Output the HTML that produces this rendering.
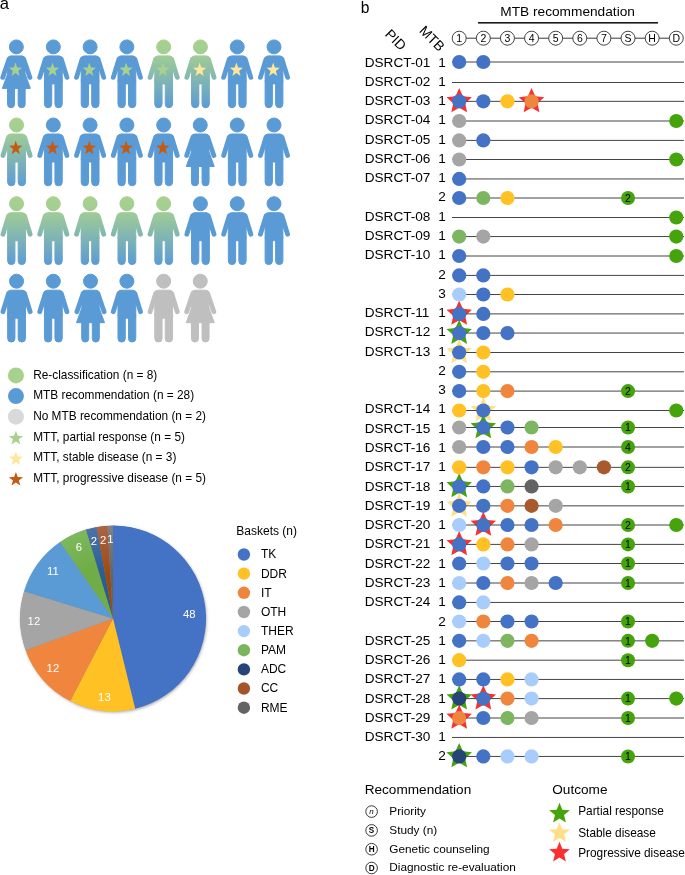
<!DOCTYPE html><html><head><meta charset="utf-8"><title>Figure</title>
<style>html,body{margin:0;padding:0;background:#fff}svg{display:block}text{font-family:"Liberation Sans",Arial,sans-serif;fill:#000}</style></head><body>
<svg width="685" height="875" viewBox="0 0 685 875">
<defs>
<linearGradient id="gg" gradientUnits="userSpaceOnUse" x1="0" y1="0" x2="0" y2="69"><stop offset="0" stop-color="#a9d18e"/><stop offset="0.2" stop-color="#a3ce93"/><stop offset="1" stop-color="#5b9bd5"/></linearGradient>
<g id="male">
<circle cx="0" cy="7.5" r="7"/>
<rect x="-8.9" y="16.5" width="17.8" height="28" rx="3"/>
<rect x="-8.9" y="38" width="7.3" height="30.3" rx="3.6"/>
<rect x="1.6" y="38" width="7.3" height="30.3" rx="3.6"/>
<line x1="-8" y1="19.8" x2="-13.6" y2="38" stroke-width="4.8" stroke-linecap="round"/>
<line x1="8" y1="19.8" x2="13.6" y2="38" stroke-width="4.8" stroke-linecap="round"/>
</g>
<g id="female">
<circle cx="0" cy="7.5" r="7"/>
<rect x="-8.5" y="16.5" width="17" height="22" rx="3"/>
<polygon points="-8.5,30 8.5,30 8.5,33.8 14,49 -14,49 -8.5,33.8"/>
<rect x="-8.8" y="45" width="7" height="23.3" rx="3.4"/>
<rect x="1.8" y="45" width="7" height="23.3" rx="3.4"/>
<line x1="-7.4" y1="19.8" x2="-13.6" y2="38" stroke-width="4.8" stroke-linecap="round"/>
<line x1="7.4" y1="19.8" x2="13.6" y2="38" stroke-width="4.8" stroke-linecap="round"/>
</g>
<filter id="sh" x="-10%" y="-10%" width="125%" height="125%"><feDropShadow dx="0.8" dy="1.2" stdDeviation="1.6" flood-color="#000" flood-opacity="0.35"/></filter>
<radialGradient id="rg5" gradientUnits="userSpaceOnUse" cx="113" cy="618.5" r="93"><stop offset="0.6" stop-color="#70ad47"/><stop offset="1" stop-color="#7db85e"/></radialGradient>
<radialGradient id="rg6" gradientUnits="userSpaceOnUse" cx="113" cy="618.5" r="93"><stop offset="0.45" stop-color="#255e91"/><stop offset="1" stop-color="#4c72a8"/></radialGradient>
<radialGradient id="rg7" gradientUnits="userSpaceOnUse" cx="113" cy="618.5" r="93"><stop offset="0.45" stop-color="#9e480e"/><stop offset="1" stop-color="#ab6443"/></radialGradient>
<radialGradient id="rg8" gradientUnits="userSpaceOnUse" cx="113" cy="618.5" r="93"><stop offset="0.45" stop-color="#636363"/><stop offset="1" stop-color="#828282"/></radialGradient>
</defs>
<text x="-0.3" y="8.7" font-size="16.6">a</text>
<use href="#female" x="16.35" y="39.40" fill="#5b9bd5" stroke="#5b9bd5"/>
<polygon points="15.55,62.48 17.21,67.51 22.11,67.68 18.24,70.95 19.61,76.08 15.55,73.08 11.49,76.08 12.86,70.95 8.99,67.68 13.89,67.51" fill="#a9d18e"/>
<use href="#male" x="53.33" y="39.40" fill="#5b9bd5" stroke="#5b9bd5"/>
<polygon points="52.53,62.48 54.19,67.51 59.09,67.68 55.22,70.95 56.59,76.08 52.53,73.08 48.47,76.08 49.84,70.95 45.97,67.68 50.87,67.51" fill="#a9d18e"/>
<use href="#male" x="90.11" y="39.40" fill="#5b9bd5" stroke="#5b9bd5"/>
<polygon points="89.31,62.48 90.97,67.51 95.87,67.68 92.00,70.95 93.37,76.08 89.31,73.08 85.25,76.08 86.62,70.95 82.75,67.68 87.65,67.51" fill="#a9d18e"/>
<use href="#male" x="126.89" y="39.40" fill="#5b9bd5" stroke="#5b9bd5"/>
<polygon points="126.09,62.48 127.75,67.51 132.65,67.68 128.78,70.95 130.15,76.08 126.09,73.08 122.03,76.08 123.40,70.95 119.53,67.68 124.43,67.51" fill="#a9d18e"/>
<use href="#male" x="163.67" y="39.40" fill="url(#gg)" stroke="url(#gg)"/>
<polygon points="162.87,62.48 164.53,67.51 169.43,67.68 165.56,70.95 166.93,76.08 162.87,73.08 158.81,76.08 160.18,70.95 156.31,67.68 161.21,67.51" fill="#a9d18e"/>
<use href="#male" x="200.45" y="39.40" fill="url(#gg)" stroke="url(#gg)"/>
<polygon points="199.65,62.48 201.31,67.51 206.21,67.68 202.34,70.95 203.71,76.08 199.65,73.08 195.59,76.08 196.96,70.95 193.09,67.68 197.99,67.51" fill="#ffe699"/>
<use href="#male" x="237.23" y="39.40" fill="#5b9bd5" stroke="#5b9bd5"/>
<polygon points="236.43,62.48 238.09,67.51 242.99,67.68 239.12,70.95 240.49,76.08 236.43,73.08 232.37,76.08 233.74,70.95 229.87,67.68 234.77,67.51" fill="#ffe699"/>
<use href="#male" x="274.01" y="39.40" fill="#5b9bd5" stroke="#5b9bd5"/>
<polygon points="273.21,62.48 274.87,67.51 279.77,67.68 275.90,70.95 277.27,76.08 273.21,73.08 269.15,76.08 270.52,70.95 266.65,67.68 271.55,67.51" fill="#ffe699"/>
<use href="#male" x="16.55" y="117.50" fill="url(#gg)" stroke="url(#gg)"/>
<polygon points="15.75,140.58 17.41,145.61 22.31,145.78 18.44,149.05 19.81,154.18 15.75,151.18 11.69,154.18 13.06,149.05 9.19,145.78 14.09,145.61" fill="#c55a11"/>
<use href="#male" x="53.33" y="117.50" fill="#5b9bd5" stroke="#5b9bd5"/>
<polygon points="52.53,140.58 54.19,145.61 59.09,145.78 55.22,149.05 56.59,154.18 52.53,151.18 48.47,154.18 49.84,149.05 45.97,145.78 50.87,145.61" fill="#c55a11"/>
<use href="#male" x="90.11" y="117.50" fill="#5b9bd5" stroke="#5b9bd5"/>
<polygon points="89.31,140.58 90.97,145.61 95.87,145.78 92.00,149.05 93.37,154.18 89.31,151.18 85.25,154.18 86.62,149.05 82.75,145.78 87.65,145.61" fill="#c55a11"/>
<use href="#male" x="126.89" y="117.50" fill="#5b9bd5" stroke="#5b9bd5"/>
<polygon points="126.09,140.58 127.75,145.61 132.65,145.78 128.78,149.05 130.15,154.18 126.09,151.18 122.03,154.18 123.40,149.05 119.53,145.78 124.43,145.61" fill="#c55a11"/>
<use href="#male" x="163.67" y="117.50" fill="#5b9bd5" stroke="#5b9bd5"/>
<polygon points="162.87,140.58 164.53,145.61 169.43,145.78 165.56,149.05 166.93,154.18 162.87,151.18 158.81,154.18 160.18,149.05 156.31,145.78 161.21,145.61" fill="#c55a11"/>
<use href="#female" x="200.25" y="117.50" fill="#5b9bd5" stroke="#5b9bd5"/>
<use href="#male" x="237.23" y="117.50" fill="#5b9bd5" stroke="#5b9bd5"/>
<use href="#male" x="274.01" y="117.50" fill="#5b9bd5" stroke="#5b9bd5"/>
<use href="#male" x="16.55" y="196.20" fill="url(#gg)" stroke="url(#gg)"/>
<use href="#male" x="53.33" y="196.20" fill="url(#gg)" stroke="url(#gg)"/>
<use href="#male" x="90.11" y="196.20" fill="url(#gg)" stroke="url(#gg)"/>
<use href="#male" x="126.89" y="196.20" fill="url(#gg)" stroke="url(#gg)"/>
<use href="#male" x="163.67" y="196.20" fill="url(#gg)" stroke="url(#gg)"/>
<use href="#male" x="200.45" y="196.20" fill="#5b9bd5" stroke="#5b9bd5"/>
<use href="#male" x="237.23" y="196.20" fill="#5b9bd5" stroke="#5b9bd5"/>
<use href="#male" x="274.01" y="196.20" fill="#5b9bd5" stroke="#5b9bd5"/>
<use href="#male" x="16.55" y="273.70" fill="#5b9bd5" stroke="#5b9bd5"/>
<use href="#male" x="53.33" y="273.70" fill="#5b9bd5" stroke="#5b9bd5"/>
<use href="#female" x="90.51" y="273.70" fill="#5b9bd5" stroke="#5b9bd5"/>
<use href="#male" x="126.89" y="273.70" fill="#5b9bd5" stroke="#5b9bd5"/>
<use href="#male" x="163.67" y="273.70" fill="#bfbfbf" stroke="#bfbfbf"/>
<use href="#female" x="200.25" y="273.70" fill="#bfbfbf" stroke="#bfbfbf"/>
<circle cx="15.95" cy="375.45" r="8" fill="#a9d18e"/>
<text x="33.2" y="378.7" font-size="11.85">Re-classification (n = 8)</text>
<circle cx="15.95" cy="396.05" r="8" fill="#5b9bd5"/>
<text x="33.2" y="399.3" font-size="11.85">MTB recommendation (n = 28)</text>
<circle cx="15.95" cy="416.65" r="8" fill="#d9d9d9"/>
<text x="33.2" y="419.9" font-size="11.85">No MTB recommendation (n = 2)</text>
<polygon points="15.90,430.75 17.72,435.80 23.08,435.97 18.84,439.26 20.34,444.41 15.90,441.40 11.46,444.41 12.96,439.26 8.72,435.97 14.08,435.80" fill="#a9d18e"/>
<text x="33.2" y="440.5" font-size="11.85">MTT, partial response (n = 5)</text>
<polygon points="15.90,451.35 17.72,456.40 23.08,456.57 18.84,459.86 20.34,465.01 15.90,462.00 11.46,465.01 12.96,459.86 8.72,456.57 14.08,456.40" fill="#ffe699"/>
<text x="33.2" y="461.1" font-size="11.85">MTT, stable disease (n = 3)</text>
<polygon points="15.90,471.95 17.72,477.00 23.08,477.17 18.84,480.46 20.34,485.61 15.90,482.60 11.46,485.61 12.96,480.46 8.72,477.17 14.08,477.00" fill="#c55a11"/>
<text x="33.2" y="481.7" font-size="11.85">MTT, progressive disease (n = 5)</text>
<circle cx="113" cy="618.5" r="92.7" fill="#888" filter="url(#sh)"/>
<path d="M113.00,618.50 L113.00,525.50 A93.00,93.00 0 0 1 135.18,708.82 Z" fill="#4472c4"/>
<path d="M113.00,618.50 L135.18,708.82 A93.00,93.00 0 0 1 70.20,701.07 Z" fill="#ffc124"/>
<path d="M113.00,618.50 L70.20,701.07 A93.00,93.00 0 0 1 25.55,650.16 Z" fill="#f0863d"/>
<path d="M113.00,618.50 L25.55,650.16 A93.00,93.00 0 0 1 24.06,591.31 Z" fill="#a5a5a5"/>
<path d="M113.00,618.50 L24.06,591.31 A93.00,93.00 0 0 1 60.06,542.04 Z" fill="#5b9bd5"/>
<path d="M113.00,618.50 L60.06,542.04 A93.00,93.00 0 0 1 85.96,529.52 Z" fill="url(#rg5)"/>
<path d="M113.00,618.50 L85.96,529.52 A93.00,93.00 0 0 1 96.69,526.94 Z" fill="url(#rg6)"/>
<path d="M113.00,618.50 L96.69,526.94 A93.00,93.00 0 0 1 107.48,525.66 Z" fill="url(#rg7)"/>
<path d="M113.00,618.50 L107.48,525.66 A93.00,93.00 0 0 1 113.00,525.50 Z" fill="url(#rg8)"/>
<text x="189.3" y="618.1" font-size="11.3" text-anchor="middle" style="fill:#fff">48</text>
<text x="104.4" y="700.6" font-size="11.3" text-anchor="middle" style="fill:#fff">13</text>
<text x="52.9" y="672.4" font-size="11.3" text-anchor="middle" style="fill:#fff">12</text>
<text x="33.9" y="624.9" font-size="11.3" text-anchor="middle" style="fill:#fff">12</text>
<text x="52.9" y="574.9" font-size="11.3" text-anchor="middle" style="fill:#fff">11</text>
<text x="79.0" y="550.7" font-size="11.3" text-anchor="middle" style="fill:#fff">6</text>
<text x="94.0" y="545.1" font-size="11.3" text-anchor="middle" style="fill:#fff">2</text>
<text x="103.2" y="543.6" font-size="11.3" text-anchor="middle" style="fill:#fff">2</text>
<text x="110.5" y="542.7" font-size="11.3" text-anchor="middle" style="fill:#fff">1</text>
<text x="236.3" y="535" font-size="12">Baskets (n)</text>
<circle cx="243.9" cy="554.5" r="6.2" fill="#4472c4"/>
<text x="260.9" y="558.4" font-size="12">TK</text>
<circle cx="243.9" cy="573.6" r="6.2" fill="#ffc124"/>
<text x="260.9" y="577.5" font-size="12">DDR</text>
<circle cx="243.9" cy="592.8" r="6.2" fill="#f0863d"/>
<text x="260.9" y="596.7" font-size="12">IT</text>
<circle cx="243.9" cy="612.0" r="6.2" fill="#a5a5a5"/>
<text x="260.9" y="615.9" font-size="12">OTH</text>
<circle cx="243.9" cy="631.1" r="6.2" fill="#a9cdfb"/>
<text x="260.9" y="635.0" font-size="12">THER</text>
<circle cx="243.9" cy="650.2" r="6.2" fill="#79b55b"/>
<text x="260.9" y="654.1" font-size="12">PAM</text>
<circle cx="243.9" cy="669.4" r="6.2" fill="#264478"/>
<text x="260.9" y="673.3" font-size="12">ADC</text>
<circle cx="243.9" cy="688.5" r="6.2" fill="#a5532a"/>
<text x="260.9" y="692.4" font-size="12">CC</text>
<circle cx="243.9" cy="707.7" r="6.2" fill="#636363"/>
<text x="260.9" y="711.6" font-size="12">RME</text>
<text x="360.8" y="13.4" font-size="15.6">b</text>
<text x="567.6" y="15.5" font-size="13.7" text-anchor="middle">MTB recommendation</text>
<rect x="478" y="22" width="180" height="1.6" fill="#1a1a1a"/>
<text transform="translate(384.2,35) rotate(45)" font-size="13.8">PID</text>
<text transform="translate(418.4,31.6) rotate(45)" font-size="13.8">MTB</text>
<line x1="459.2" y1="38.2" x2="676.3" y2="38.2" stroke="#222" stroke-width="0.9"/>
<circle cx="459.20" cy="38.2" r="7" fill="#fff" stroke="#222" stroke-width="0.85"/>
<text x="459.20" y="42.0" font-size="10.5" text-anchor="middle">1</text>
<circle cx="483.32" cy="38.2" r="7" fill="#fff" stroke="#222" stroke-width="0.85"/>
<text x="483.32" y="42.0" font-size="10.5" text-anchor="middle">2</text>
<circle cx="507.44" cy="38.2" r="7" fill="#fff" stroke="#222" stroke-width="0.85"/>
<text x="507.44" y="42.0" font-size="10.5" text-anchor="middle">3</text>
<circle cx="531.56" cy="38.2" r="7" fill="#fff" stroke="#222" stroke-width="0.85"/>
<text x="531.56" y="42.0" font-size="10.5" text-anchor="middle">4</text>
<circle cx="555.68" cy="38.2" r="7" fill="#fff" stroke="#222" stroke-width="0.85"/>
<text x="555.68" y="42.0" font-size="10.5" text-anchor="middle">5</text>
<circle cx="579.80" cy="38.2" r="7" fill="#fff" stroke="#222" stroke-width="0.85"/>
<text x="579.80" y="42.0" font-size="10.5" text-anchor="middle">6</text>
<circle cx="603.92" cy="38.2" r="7" fill="#fff" stroke="#222" stroke-width="0.85"/>
<text x="603.92" y="42.0" font-size="10.5" text-anchor="middle">7</text>
<circle cx="628.04" cy="38.2" r="7" fill="#fff" stroke="#222" stroke-width="0.85"/>
<text x="628.04" y="42.0" font-size="10.5" text-anchor="middle">S</text>
<circle cx="652.16" cy="38.2" r="7" fill="#fff" stroke="#222" stroke-width="0.85"/>
<text x="652.16" y="42.0" font-size="10.5" text-anchor="middle">H</text>
<circle cx="676.28" cy="38.2" r="7" fill="#fff" stroke="#222" stroke-width="0.85"/>
<text x="676.28" y="42.0" font-size="10.5" text-anchor="middle">D</text>
<text x="364.7" y="66.5" font-size="13.6">DSRCT-01</text>
<text x="442" y="66.5" font-size="13.6" text-anchor="middle">1</text>
<text x="364.7" y="85.8" font-size="13.6">DSRCT-02</text>
<text x="442" y="85.8" font-size="13.6" text-anchor="middle">1</text>
<text x="364.7" y="105.0" font-size="13.6">DSRCT-03</text>
<text x="442" y="105.0" font-size="13.6" text-anchor="middle">1</text>
<text x="364.7" y="124.3" font-size="13.6">DSRCT-04</text>
<text x="442" y="124.3" font-size="13.6" text-anchor="middle">1</text>
<text x="364.7" y="143.6" font-size="13.6">DSRCT-05</text>
<text x="442" y="143.6" font-size="13.6" text-anchor="middle">1</text>
<text x="364.7" y="162.9" font-size="13.6">DSRCT-06</text>
<text x="442" y="162.9" font-size="13.6" text-anchor="middle">1</text>
<text x="364.7" y="182.1" font-size="13.6">DSRCT-07</text>
<text x="442" y="182.1" font-size="13.6" text-anchor="middle">1</text>
<text x="442" y="201.4" font-size="13.6" text-anchor="middle">2</text>
<text x="364.7" y="220.7" font-size="13.6">DSRCT-08</text>
<text x="442" y="220.7" font-size="13.6" text-anchor="middle">1</text>
<text x="364.7" y="240.0" font-size="13.6">DSRCT-09</text>
<text x="442" y="240.0" font-size="13.6" text-anchor="middle">1</text>
<text x="364.7" y="259.2" font-size="13.6">DSRCT-10</text>
<text x="442" y="259.2" font-size="13.6" text-anchor="middle">1</text>
<text x="442" y="278.5" font-size="13.6" text-anchor="middle">2</text>
<text x="442" y="297.8" font-size="13.6" text-anchor="middle">3</text>
<text x="364.7" y="317.1" font-size="13.6">DSRCT-11</text>
<text x="442" y="317.1" font-size="13.6" text-anchor="middle">1</text>
<text x="364.7" y="336.3" font-size="13.6">DSRCT-12</text>
<text x="442" y="336.3" font-size="13.6" text-anchor="middle">1</text>
<text x="364.7" y="355.6" font-size="13.6">DSRCT-13</text>
<text x="442" y="355.6" font-size="13.6" text-anchor="middle">1</text>
<text x="442" y="374.9" font-size="13.6" text-anchor="middle">2</text>
<text x="442" y="394.2" font-size="13.6" text-anchor="middle">3</text>
<text x="364.7" y="413.4" font-size="13.6">DSRCT-14</text>
<text x="442" y="413.4" font-size="13.6" text-anchor="middle">1</text>
<text x="364.7" y="432.7" font-size="13.6">DSRCT-15</text>
<text x="442" y="432.7" font-size="13.6" text-anchor="middle">1</text>
<text x="364.7" y="452.0" font-size="13.6">DSRCT-16</text>
<text x="442" y="452.0" font-size="13.6" text-anchor="middle">1</text>
<text x="364.7" y="471.3" font-size="13.6">DSRCT-17</text>
<text x="442" y="471.3" font-size="13.6" text-anchor="middle">1</text>
<text x="364.7" y="490.5" font-size="13.6">DSRCT-18</text>
<text x="442" y="490.5" font-size="13.6" text-anchor="middle">1</text>
<text x="364.7" y="509.8" font-size="13.6">DSRCT-19</text>
<text x="442" y="509.8" font-size="13.6" text-anchor="middle">1</text>
<text x="364.7" y="529.1" font-size="13.6">DSRCT-20</text>
<text x="442" y="529.1" font-size="13.6" text-anchor="middle">1</text>
<text x="364.7" y="548.4" font-size="13.6">DSRCT-21</text>
<text x="442" y="548.4" font-size="13.6" text-anchor="middle">1</text>
<text x="364.7" y="567.6" font-size="13.6">DSRCT-22</text>
<text x="442" y="567.6" font-size="13.6" text-anchor="middle">1</text>
<text x="364.7" y="586.9" font-size="13.6">DSRCT-23</text>
<text x="442" y="586.9" font-size="13.6" text-anchor="middle">1</text>
<text x="364.7" y="606.2" font-size="13.6">DSRCT-24</text>
<text x="442" y="606.2" font-size="13.6" text-anchor="middle">1</text>
<text x="442" y="625.5" font-size="13.6" text-anchor="middle">2</text>
<text x="364.7" y="644.8" font-size="13.6">DSRCT-25</text>
<text x="442" y="644.8" font-size="13.6" text-anchor="middle">1</text>
<text x="364.7" y="664.0" font-size="13.6">DSRCT-26</text>
<text x="442" y="664.0" font-size="13.6" text-anchor="middle">1</text>
<text x="364.7" y="683.3" font-size="13.6">DSRCT-27</text>
<text x="442" y="683.3" font-size="13.6" text-anchor="middle">1</text>
<text x="364.7" y="702.6" font-size="13.6">DSRCT-28</text>
<text x="442" y="702.6" font-size="13.6" text-anchor="middle">1</text>
<text x="364.7" y="721.8" font-size="13.6">DSRCT-29</text>
<text x="442" y="721.8" font-size="13.6" text-anchor="middle">1</text>
<text x="364.7" y="741.1" font-size="13.6">DSRCT-30</text>
<text x="442" y="741.1" font-size="13.6" text-anchor="middle">1</text>
<text x="442" y="760.4" font-size="13.6" text-anchor="middle">2</text>
<polygon points="459.20,87.95 462.90,96.25 471.94,97.21 465.19,103.30 467.08,112.19 459.20,107.65 451.32,112.19 453.21,103.30 446.46,97.21 455.50,96.25" fill="#fa2f2f"/>
<polygon points="531.56,87.95 535.26,96.25 544.30,97.21 537.55,103.30 539.44,112.19 531.56,107.65 523.68,112.19 525.57,103.30 518.82,97.21 527.86,96.25" fill="#fa2f2f"/>
<polygon points="459.20,300.50 462.90,308.80 471.94,309.76 465.19,315.85 467.08,324.74 459.20,320.20 451.32,324.74 453.21,315.85 446.46,309.76 455.50,308.80" fill="#fa2f2f"/>
<polygon points="459.20,319.65 462.90,327.95 471.94,328.91 465.19,335.00 467.08,343.89 459.20,339.35 451.32,343.89 453.21,335.00 446.46,328.91 455.50,327.95" fill="#45a30b"/>
<polygon points="459.20,339.10 462.90,347.40 471.94,348.36 465.19,354.45 467.08,363.34 459.20,358.80 451.32,363.34 453.21,354.45 446.46,348.36 455.50,347.40" fill="#ffe08a"/>
<polygon points="483.32,397.10 487.02,405.40 496.06,406.36 489.31,412.45 491.20,421.34 483.32,416.80 475.44,421.34 477.33,412.45 470.58,406.36 479.62,405.40" fill="#ffe08a"/>
<polygon points="483.32,414.10 487.02,422.40 496.06,423.36 489.31,429.45 491.20,438.34 483.32,433.80 475.44,438.34 477.33,429.45 470.58,423.36 479.62,422.40" fill="#45a30b"/>
<polygon points="459.20,473.05 462.90,481.35 471.94,482.31 465.19,488.40 467.08,497.29 459.20,492.75 451.32,497.29 453.21,488.40 446.46,482.31 455.50,481.35" fill="#45a30b"/>
<polygon points="459.20,492.45 462.90,500.75 471.94,501.71 465.19,507.80 467.08,516.69 459.20,512.15 451.32,516.69 453.21,507.80 446.46,501.71 455.50,500.75" fill="#ffe08a"/>
<polygon points="483.32,511.60 487.02,519.90 496.06,520.86 489.31,526.95 491.20,535.84 483.32,531.30 475.44,535.84 477.33,526.95 470.58,520.86 479.62,519.90" fill="#fa2f2f"/>
<polygon points="459.20,531.00 462.90,539.30 471.94,540.26 465.19,546.35 467.08,555.24 459.20,550.70 451.32,555.24 453.21,546.35 446.46,540.26 455.50,539.30" fill="#fa2f2f"/>
<polygon points="459.20,685.20 462.90,693.50 471.94,694.46 465.19,700.55 467.08,709.44 459.20,704.90 451.32,709.44 453.21,700.55 446.46,694.46 455.50,693.50" fill="#45a30b"/>
<polygon points="483.32,685.20 487.02,693.50 496.06,694.46 489.31,700.55 491.20,709.44 483.32,704.90 475.44,709.44 477.33,700.55 470.58,694.46 479.62,693.50" fill="#fa2f2f"/>
<polygon points="459.20,704.60 462.90,712.90 471.94,713.86 465.19,719.95 467.08,728.84 459.20,724.30 451.32,728.84 453.21,719.95 446.46,713.86 455.50,712.90" fill="#fa2f2f"/>
<polygon points="459.20,743.05 462.90,751.35 471.94,752.31 465.19,758.40 467.08,767.29 459.20,762.75 451.32,767.29 453.21,758.40 446.46,752.31 455.50,751.35" fill="#45a30b"/>
<line x1="452" y1="62.00" x2="684" y2="62.00" stroke="#454545" stroke-width="1"/>
<line x1="452" y1="82.50" x2="684" y2="82.50" stroke="#454545" stroke-width="1"/>
<line x1="452" y1="101.35" x2="684" y2="101.35" stroke="#454545" stroke-width="1"/>
<line x1="452" y1="121.00" x2="684" y2="121.00" stroke="#454545" stroke-width="1"/>
<line x1="452" y1="140.40" x2="684" y2="140.40" stroke="#454545" stroke-width="1"/>
<line x1="452" y1="159.50" x2="684" y2="159.50" stroke="#454545" stroke-width="1"/>
<line x1="452" y1="178.95" x2="684" y2="178.95" stroke="#454545" stroke-width="1"/>
<line x1="452" y1="198.00" x2="684" y2="198.00" stroke="#454545" stroke-width="1"/>
<line x1="452" y1="217.50" x2="684" y2="217.50" stroke="#454545" stroke-width="1"/>
<line x1="452" y1="236.55" x2="684" y2="236.55" stroke="#454545" stroke-width="1"/>
<line x1="452" y1="256.00" x2="684" y2="256.00" stroke="#454545" stroke-width="1"/>
<line x1="452" y1="275.40" x2="684" y2="275.40" stroke="#454545" stroke-width="1"/>
<line x1="452" y1="294.50" x2="684" y2="294.50" stroke="#454545" stroke-width="1"/>
<line x1="452" y1="313.90" x2="684" y2="313.90" stroke="#454545" stroke-width="1"/>
<line x1="452" y1="333.05" x2="684" y2="333.05" stroke="#454545" stroke-width="1"/>
<line x1="452" y1="352.50" x2="684" y2="352.50" stroke="#454545" stroke-width="1"/>
<line x1="452" y1="371.80" x2="684" y2="371.80" stroke="#454545" stroke-width="1"/>
<line x1="452" y1="391.10" x2="684" y2="391.10" stroke="#454545" stroke-width="1"/>
<line x1="452" y1="410.50" x2="684" y2="410.50" stroke="#454545" stroke-width="1"/>
<line x1="452" y1="427.50" x2="684" y2="427.50" stroke="#454545" stroke-width="1"/>
<line x1="452" y1="447.00" x2="684" y2="447.00" stroke="#454545" stroke-width="1"/>
<line x1="452" y1="467.35" x2="684" y2="467.35" stroke="#454545" stroke-width="1"/>
<line x1="452" y1="486.45" x2="684" y2="486.45" stroke="#454545" stroke-width="1"/>
<line x1="452" y1="505.85" x2="684" y2="505.85" stroke="#454545" stroke-width="1"/>
<line x1="452" y1="525.00" x2="684" y2="525.00" stroke="#454545" stroke-width="1"/>
<line x1="452" y1="544.40" x2="684" y2="544.40" stroke="#454545" stroke-width="1"/>
<line x1="452" y1="563.50" x2="684" y2="563.50" stroke="#454545" stroke-width="1"/>
<line x1="452" y1="583.00" x2="684" y2="583.00" stroke="#454545" stroke-width="1"/>
<line x1="452" y1="602.45" x2="684" y2="602.45" stroke="#454545" stroke-width="1"/>
<line x1="452" y1="621.50" x2="684" y2="621.50" stroke="#454545" stroke-width="1"/>
<line x1="452" y1="640.85" x2="684" y2="640.85" stroke="#454545" stroke-width="1"/>
<line x1="452" y1="660.20" x2="684" y2="660.20" stroke="#454545" stroke-width="1"/>
<line x1="452" y1="679.45" x2="684" y2="679.45" stroke="#454545" stroke-width="1"/>
<line x1="452" y1="698.60" x2="684" y2="698.60" stroke="#454545" stroke-width="1"/>
<line x1="452" y1="718.00" x2="684" y2="718.00" stroke="#454545" stroke-width="1"/>
<line x1="452" y1="737.45" x2="684" y2="737.45" stroke="#454545" stroke-width="1"/>
<line x1="452" y1="756.45" x2="684" y2="756.45" stroke="#454545" stroke-width="1"/>
<circle cx="459.20" cy="62.00" r="7.1" fill="#4472c4"/>
<circle cx="483.32" cy="62.00" r="7.1" fill="#4472c4"/>
<circle cx="459.20" cy="101.35" r="7.1" fill="#4472c4"/>
<circle cx="483.32" cy="101.35" r="7.1" fill="#4472c4"/>
<circle cx="507.44" cy="101.35" r="7.1" fill="#ffc124"/>
<circle cx="531.56" cy="101.35" r="7.1" fill="#f0863d"/>
<circle cx="459.20" cy="121.00" r="7.1" fill="#a5a5a5"/>
<circle cx="676.28" cy="121.00" r="7.1" fill="#45a30b"/>
<circle cx="459.20" cy="140.40" r="7.1" fill="#a5a5a5"/>
<circle cx="483.32" cy="140.40" r="7.1" fill="#4472c4"/>
<circle cx="459.20" cy="159.50" r="7.1" fill="#a5a5a5"/>
<circle cx="676.28" cy="159.50" r="7.1" fill="#45a30b"/>
<circle cx="459.20" cy="178.95" r="7.1" fill="#4472c4"/>
<circle cx="459.20" cy="198.00" r="7.1" fill="#4472c4"/>
<circle cx="483.32" cy="198.00" r="7.1" fill="#7db560"/>
<circle cx="507.44" cy="198.00" r="7.1" fill="#ffc124"/>
<circle cx="628.04" cy="198.00" r="7" fill="#45a30b"/>
<text x="628.04" y="201.8" font-size="10.5" text-anchor="middle">2</text>
<circle cx="676.28" cy="217.50" r="7.1" fill="#45a30b"/>
<circle cx="459.20" cy="236.55" r="7.1" fill="#7db560"/>
<circle cx="483.32" cy="236.55" r="7.1" fill="#a5a5a5"/>
<circle cx="676.28" cy="236.55" r="7.1" fill="#45a30b"/>
<circle cx="459.20" cy="256.00" r="7.1" fill="#4472c4"/>
<circle cx="676.28" cy="256.00" r="7.1" fill="#45a30b"/>
<circle cx="459.20" cy="275.40" r="7.1" fill="#4472c4"/>
<circle cx="483.32" cy="275.40" r="7.1" fill="#4472c4"/>
<circle cx="459.20" cy="294.50" r="7.1" fill="#a9cdfb"/>
<circle cx="483.32" cy="294.50" r="7.1" fill="#4472c4"/>
<circle cx="507.44" cy="294.50" r="7.1" fill="#ffc124"/>
<circle cx="459.20" cy="313.90" r="7.1" fill="#4472c4"/>
<circle cx="483.32" cy="313.90" r="7.1" fill="#4472c4"/>
<circle cx="459.20" cy="333.05" r="7.1" fill="#4472c4"/>
<circle cx="483.32" cy="333.05" r="7.1" fill="#4472c4"/>
<circle cx="507.44" cy="333.05" r="7.1" fill="#4472c4"/>
<circle cx="459.20" cy="352.50" r="7.1" fill="#4472c4"/>
<circle cx="483.32" cy="352.50" r="7.1" fill="#ffc124"/>
<circle cx="459.20" cy="371.80" r="7.1" fill="#4472c4"/>
<circle cx="483.32" cy="371.80" r="7.1" fill="#ffc124"/>
<circle cx="459.20" cy="391.10" r="7.1" fill="#4472c4"/>
<circle cx="483.32" cy="391.10" r="7.1" fill="#ffc124"/>
<circle cx="507.44" cy="391.10" r="7.1" fill="#f0863d"/>
<circle cx="628.04" cy="391.10" r="7" fill="#45a30b"/>
<text x="628.04" y="394.9" font-size="10.5" text-anchor="middle">2</text>
<circle cx="459.20" cy="410.50" r="7.1" fill="#ffc124"/>
<circle cx="483.32" cy="410.50" r="7.1" fill="#4472c4"/>
<circle cx="676.28" cy="410.50" r="7.1" fill="#45a30b"/>
<circle cx="459.20" cy="427.50" r="7.1" fill="#a5a5a5"/>
<circle cx="483.32" cy="427.50" r="7.1" fill="#4472c4"/>
<circle cx="507.44" cy="427.50" r="7.1" fill="#4472c4"/>
<circle cx="531.56" cy="427.50" r="7.1" fill="#7db560"/>
<circle cx="628.04" cy="427.50" r="7" fill="#45a30b"/>
<text x="628.04" y="431.3" font-size="10.5" text-anchor="middle">1</text>
<circle cx="459.20" cy="447.00" r="7.1" fill="#a5a5a5"/>
<circle cx="483.32" cy="447.00" r="7.1" fill="#4472c4"/>
<circle cx="507.44" cy="447.00" r="7.1" fill="#4472c4"/>
<circle cx="531.56" cy="447.00" r="7.1" fill="#f0863d"/>
<circle cx="555.68" cy="447.00" r="7.1" fill="#ffc124"/>
<circle cx="628.04" cy="447.00" r="7" fill="#45a30b"/>
<text x="628.04" y="450.8" font-size="10.5" text-anchor="middle">4</text>
<circle cx="459.20" cy="467.35" r="7.1" fill="#ffc124"/>
<circle cx="483.32" cy="467.35" r="7.1" fill="#f0863d"/>
<circle cx="507.44" cy="467.35" r="7.1" fill="#ffc124"/>
<circle cx="531.56" cy="467.35" r="7.1" fill="#4472c4"/>
<circle cx="555.68" cy="467.35" r="7.1" fill="#a5a5a5"/>
<circle cx="579.80" cy="467.35" r="7.1" fill="#a5a5a5"/>
<circle cx="603.92" cy="467.35" r="7.1" fill="#a85a2e"/>
<circle cx="628.04" cy="467.35" r="7" fill="#45a30b"/>
<text x="628.04" y="471.2" font-size="10.5" text-anchor="middle">2</text>
<circle cx="459.20" cy="486.45" r="7.1" fill="#4472c4"/>
<circle cx="483.32" cy="486.45" r="7.1" fill="#4472c4"/>
<circle cx="507.44" cy="486.45" r="7.1" fill="#7db560"/>
<circle cx="531.56" cy="486.45" r="7.1" fill="#636363"/>
<circle cx="628.04" cy="486.45" r="7" fill="#45a30b"/>
<text x="628.04" y="490.2" font-size="10.5" text-anchor="middle">1</text>
<circle cx="459.20" cy="505.85" r="7.1" fill="#4472c4"/>
<circle cx="483.32" cy="505.85" r="7.1" fill="#4472c4"/>
<circle cx="507.44" cy="505.85" r="7.1" fill="#f0863d"/>
<circle cx="531.56" cy="505.85" r="7.1" fill="#a85a2e"/>
<circle cx="555.68" cy="505.85" r="7.1" fill="#a5a5a5"/>
<circle cx="459.20" cy="525.00" r="7.1" fill="#a9cdfb"/>
<circle cx="483.32" cy="525.00" r="7.1" fill="#4472c4"/>
<circle cx="507.44" cy="525.00" r="7.1" fill="#4472c4"/>
<circle cx="531.56" cy="525.00" r="7.1" fill="#4472c4"/>
<circle cx="555.68" cy="525.00" r="7.1" fill="#f0863d"/>
<circle cx="628.04" cy="525.00" r="7" fill="#45a30b"/>
<text x="628.04" y="528.8" font-size="10.5" text-anchor="middle">2</text>
<circle cx="676.28" cy="525.00" r="7.1" fill="#45a30b"/>
<circle cx="459.20" cy="544.40" r="7.1" fill="#4472c4"/>
<circle cx="483.32" cy="544.40" r="7.1" fill="#ffc124"/>
<circle cx="507.44" cy="544.40" r="7.1" fill="#f0863d"/>
<circle cx="531.56" cy="544.40" r="7.1" fill="#a5a5a5"/>
<circle cx="628.04" cy="544.40" r="7" fill="#45a30b"/>
<text x="628.04" y="548.2" font-size="10.5" text-anchor="middle">1</text>
<circle cx="459.20" cy="563.50" r="7.1" fill="#4472c4"/>
<circle cx="483.32" cy="563.50" r="7.1" fill="#a9cdfb"/>
<circle cx="507.44" cy="563.50" r="7.1" fill="#4472c4"/>
<circle cx="531.56" cy="563.50" r="7.1" fill="#4472c4"/>
<circle cx="628.04" cy="563.50" r="7" fill="#45a30b"/>
<text x="628.04" y="567.3" font-size="10.5" text-anchor="middle">1</text>
<circle cx="459.20" cy="583.00" r="7.1" fill="#a9cdfb"/>
<circle cx="483.32" cy="583.00" r="7.1" fill="#4472c4"/>
<circle cx="507.44" cy="583.00" r="7.1" fill="#f0863d"/>
<circle cx="531.56" cy="583.00" r="7.1" fill="#a5a5a5"/>
<circle cx="555.68" cy="583.00" r="7.1" fill="#4472c4"/>
<circle cx="628.04" cy="583.00" r="7" fill="#45a30b"/>
<text x="628.04" y="586.8" font-size="10.5" text-anchor="middle">1</text>
<circle cx="459.20" cy="602.45" r="7.1" fill="#4472c4"/>
<circle cx="483.32" cy="602.45" r="7.1" fill="#a9cdfb"/>
<circle cx="459.20" cy="621.50" r="7.1" fill="#a9cdfb"/>
<circle cx="483.32" cy="621.50" r="7.1" fill="#f0863d"/>
<circle cx="507.44" cy="621.50" r="7.1" fill="#4472c4"/>
<circle cx="531.56" cy="621.50" r="7.1" fill="#4472c4"/>
<circle cx="628.04" cy="621.50" r="7" fill="#45a30b"/>
<text x="628.04" y="625.3" font-size="10.5" text-anchor="middle">1</text>
<circle cx="459.20" cy="640.85" r="7.1" fill="#4472c4"/>
<circle cx="483.32" cy="640.85" r="7.1" fill="#a9cdfb"/>
<circle cx="507.44" cy="640.85" r="7.1" fill="#7db560"/>
<circle cx="531.56" cy="640.85" r="7.1" fill="#f0863d"/>
<circle cx="628.04" cy="640.85" r="7" fill="#45a30b"/>
<text x="628.04" y="644.6" font-size="10.5" text-anchor="middle">1</text>
<circle cx="652.16" cy="640.85" r="7.1" fill="#45a30b"/>
<circle cx="459.20" cy="660.20" r="7.1" fill="#ffc124"/>
<circle cx="628.04" cy="660.20" r="7" fill="#45a30b"/>
<text x="628.04" y="664.0" font-size="10.5" text-anchor="middle">1</text>
<circle cx="459.20" cy="679.45" r="7.1" fill="#4472c4"/>
<circle cx="483.32" cy="679.45" r="7.1" fill="#4472c4"/>
<circle cx="507.44" cy="679.45" r="7.1" fill="#ffc124"/>
<circle cx="531.56" cy="679.45" r="7.1" fill="#a9cdfb"/>
<circle cx="459.20" cy="698.60" r="7.1" fill="#264478"/>
<circle cx="483.32" cy="698.60" r="7.1" fill="#4472c4"/>
<circle cx="507.44" cy="698.60" r="7.1" fill="#f0863d"/>
<circle cx="531.56" cy="698.60" r="7.1" fill="#a9cdfb"/>
<circle cx="628.04" cy="698.60" r="7" fill="#45a30b"/>
<text x="628.04" y="702.4" font-size="10.5" text-anchor="middle">1</text>
<circle cx="676.28" cy="698.60" r="7.1" fill="#45a30b"/>
<circle cx="459.20" cy="718.00" r="7.1" fill="#f0863d"/>
<circle cx="483.32" cy="718.00" r="7.1" fill="#4472c4"/>
<circle cx="507.44" cy="718.00" r="7.1" fill="#7db560"/>
<circle cx="531.56" cy="718.00" r="7.1" fill="#a5a5a5"/>
<circle cx="628.04" cy="718.00" r="7" fill="#45a30b"/>
<text x="628.04" y="721.8" font-size="10.5" text-anchor="middle">1</text>
<circle cx="459.20" cy="756.45" r="7.1" fill="#264478"/>
<circle cx="483.32" cy="756.45" r="7.1" fill="#4472c4"/>
<circle cx="507.44" cy="756.45" r="7.1" fill="#a9cdfb"/>
<circle cx="531.56" cy="756.45" r="7.1" fill="#a9cdfb"/>
<circle cx="628.04" cy="756.45" r="7" fill="#45a30b"/>
<text x="628.04" y="760.2" font-size="10.5" text-anchor="middle">1</text>
<text x="364.7" y="793.6" font-size="13.6">Recommendation</text>
<text x="552.3" y="793.6" font-size="13.6">Outcome</text>
<circle cx="371.6" cy="811.6" r="5.8" fill="#fff" stroke="#222" stroke-width="0.9"/>
<text x="371.6" y="814.4" font-size="8" text-anchor="middle" font-style="italic">n</text>
<text x="389.3" y="814.9" font-size="11.8">Priority</text>
<circle cx="371.6" cy="830.4" r="5.8" fill="#fff" stroke="#222" stroke-width="0.9"/>
<text x="371.6" y="833.2" font-size="8.2" text-anchor="middle" font-weight="bold">S</text>
<text x="389.3" y="833.7" font-size="11.8">Study (n)</text>
<circle cx="371.6" cy="849.2" r="5.8" fill="#fff" stroke="#222" stroke-width="0.9"/>
<text x="371.6" y="852.0" font-size="8.2" text-anchor="middle" font-weight="bold">H</text>
<text x="389.3" y="852.5" font-size="11.8">Genetic counseling</text>
<circle cx="371.6" cy="868.0" r="5.8" fill="#fff" stroke="#222" stroke-width="0.9"/>
<text x="371.6" y="870.8" font-size="8.2" text-anchor="middle" font-weight="bold">D</text>
<text x="389.3" y="871.3" font-size="11.8">Diagnostic re-evaluation</text>
<polygon points="559.50,802.70 562.32,809.72 569.87,810.23 564.06,815.08 565.91,822.42 559.50,818.40 553.09,822.42 554.94,815.08 549.13,810.23 556.68,809.72" fill="#45a30b"/>
<text x="578.2" y="814.8" font-size="11.85">Partial response</text>
<polygon points="559.50,822.20 562.32,829.22 569.87,829.73 564.06,834.58 565.91,841.92 559.50,837.90 553.09,841.92 554.94,834.58 549.13,829.73 556.68,829.22" fill="#ffe08a"/>
<text x="578.2" y="837.2" font-size="11.85">Stable disease</text>
<polygon points="559.50,841.70 562.32,848.72 569.87,849.23 564.06,854.08 565.91,861.42 559.50,857.40 553.09,861.42 554.94,854.08 549.13,849.23 556.68,848.72" fill="#fa2f2f"/>
<text x="578.2" y="856.9" font-size="11.85">Progressive disease</text>
</svg></body></html>
